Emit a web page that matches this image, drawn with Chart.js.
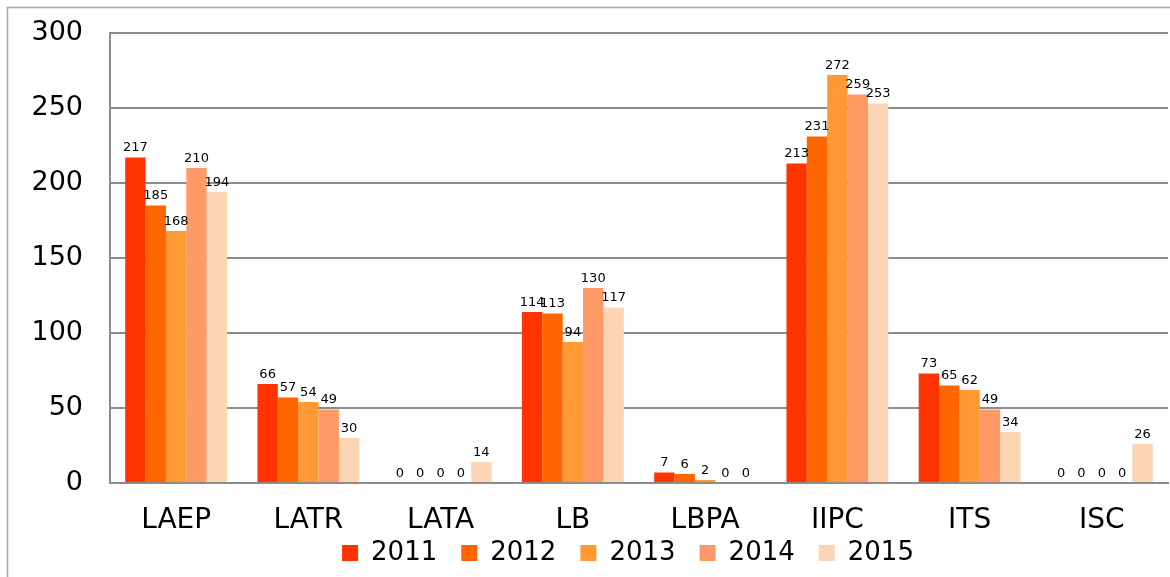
<!DOCTYPE html>
<html>
<head>
<meta charset="utf-8">
<script src="https://cdn.jsdelivr.net/npm/chart.js@4/dist/chart.umd.min.js"></script>
<style>
  html, body { margin: 0; padding: 0; background: #fff; }
  #wrap { width: 1170px; height: 577px; position: relative; }
</style>
</head>
<body>
<div id="wrap"><canvas id="chart" width="1170" height="577"></canvas></div>
<script>
const categories = ['LAEP', 'LATR', 'LATA', 'LB', 'LBPA', 'IIPC', 'ITS', 'ISC'];
const years = ['2011', '2012', '2013', '2014', '2015'];
const values2011 = [217, 66, 0, 114, 7, 213, 73, 0];
const values2012 = [185, 57, 0, 113, 6, 231, 65, 0];
const values2013 = [168, 54, 0, 94, 2, 272, 62, 0];
const values2014 = [210, 49, 0, 130, 0, 259, 49, 0];
const values2015 = [194, 30, 14, 117, 0, 253, 34, 26];
const yTicks = [0, 50, 100, 150, 200, 250, 300];
const colors = ['#FF3300', '#FF6600', '#FF9933', '#FF9966', '#FCD5B5'];

const seriesValues = [values2011, values2012, values2013, values2014, values2015];
const font = 'DejaVu Sans, Verdana, sans-serif';

// outer frame, like the exported chart area
const framePlugin = {
  id: 'frame',
  beforeDraw(chart) {
    const ctx = chart.ctx;
    ctx.save();
    ctx.fillStyle = '#fff';
    ctx.fillRect(0, 0, chart.width, chart.height);
    ctx.strokeStyle = '#a6a6a6';
    ctx.lineWidth = 1.5;
    ctx.strokeRect(7.5, 7.5, chart.width + 20, chart.height + 20);
    ctx.restore();
  },
};

const valueLabels = {
  id: 'valueLabels',
  afterDatasetsDraw(chart) {
    const ctx = chart.ctx;
    ctx.save();
    ctx.font = '13px ' + font;
    ctx.fillStyle = '#000';
    ctx.textAlign = 'center';
    ctx.textBaseline = 'bottom';
    chart.data.datasets.forEach((ds, i) => {
      chart.getDatasetMeta(i).data.forEach((bar, j) => {
        ctx.fillText(String(ds.data[j]), bar.x, bar.y - 3);
      });
    });
    ctx.restore();
  },
};

// legend: keep it short vertically but wide between items,
// and push it a bit right, it sits over the plot in the original
const legendFix = {
  id: 'legendFix',
  beforeLayout(chart) {
    const lg = chart.legend;
    if (lg && ! lg._fixed) {
      const fit = lg.fit.bind(lg);
      lg.fit = function () {
        fit();
        this.height = 40;
      };
      lg._fixed = true;
    }
  },
  afterLayout(chart) {
    const lg = chart.legend;
    if (lg) {
      lg.left += 44;
      lg.right += 44;
      lg.top -= 17;
    }
  },
};

new Chart(document.getElementById('chart'), {
  type: 'bar',
  data: {
    labels: categories,
    datasets: years.map((year, i) => ({
      label: year,
      data: seriesValues[i],
      backgroundColor: colors[i],
      borderWidth: 0,
      categoryPercentage: 0.77,
      barPercentage: 1,
    })),
  },
  options: {
    responsive: false,
    animation: false,
    devicePixelRatio: 1,
    layout: { padding: { top: 33, right: 2, bottom: 4, left: 0 } },
    plugins: {
      tooltip: { enabled: false },
      legend: {
        position: 'bottom',
        labels: {
          font: { family: font, size: 26 },
          color: '#000',
          boxWidth: 16,
          boxHeight: 16,
          padding: 24,
        },
      },
    },
    scales: {
      x: {
        grid: { display: false, drawTicks: false },
        border: { color: '#8c8c8c', width: 2 },
        ticks: { font: { family: font, size: 28 }, color: '#000', padding: 21 },
        afterFit(scale) { scale.height = 50; },
      },
      y: {
        min: 0,
        max: 300,
        afterBuildTicks(scale) { scale.ticks = yTicks.map((v) => ({ value: v })); },
        grid: {
          color: '#8c8c8c',
          lineWidth: 2,
          drawTicks: true,
          tickLength: 27,
          tickColor: 'rgba(0,0,0,0)',
        },
        border: { color: '#8c8c8c', width: 2 },
        ticks: { font: { family: font, size: 27 }, color: '#000', padding: 0 },
        afterFit(scale) { scale.width = 110; },
      },
    },
  },
  plugins: [framePlugin, valueLabels, legendFix],
});
</script>
</body>
</html>
